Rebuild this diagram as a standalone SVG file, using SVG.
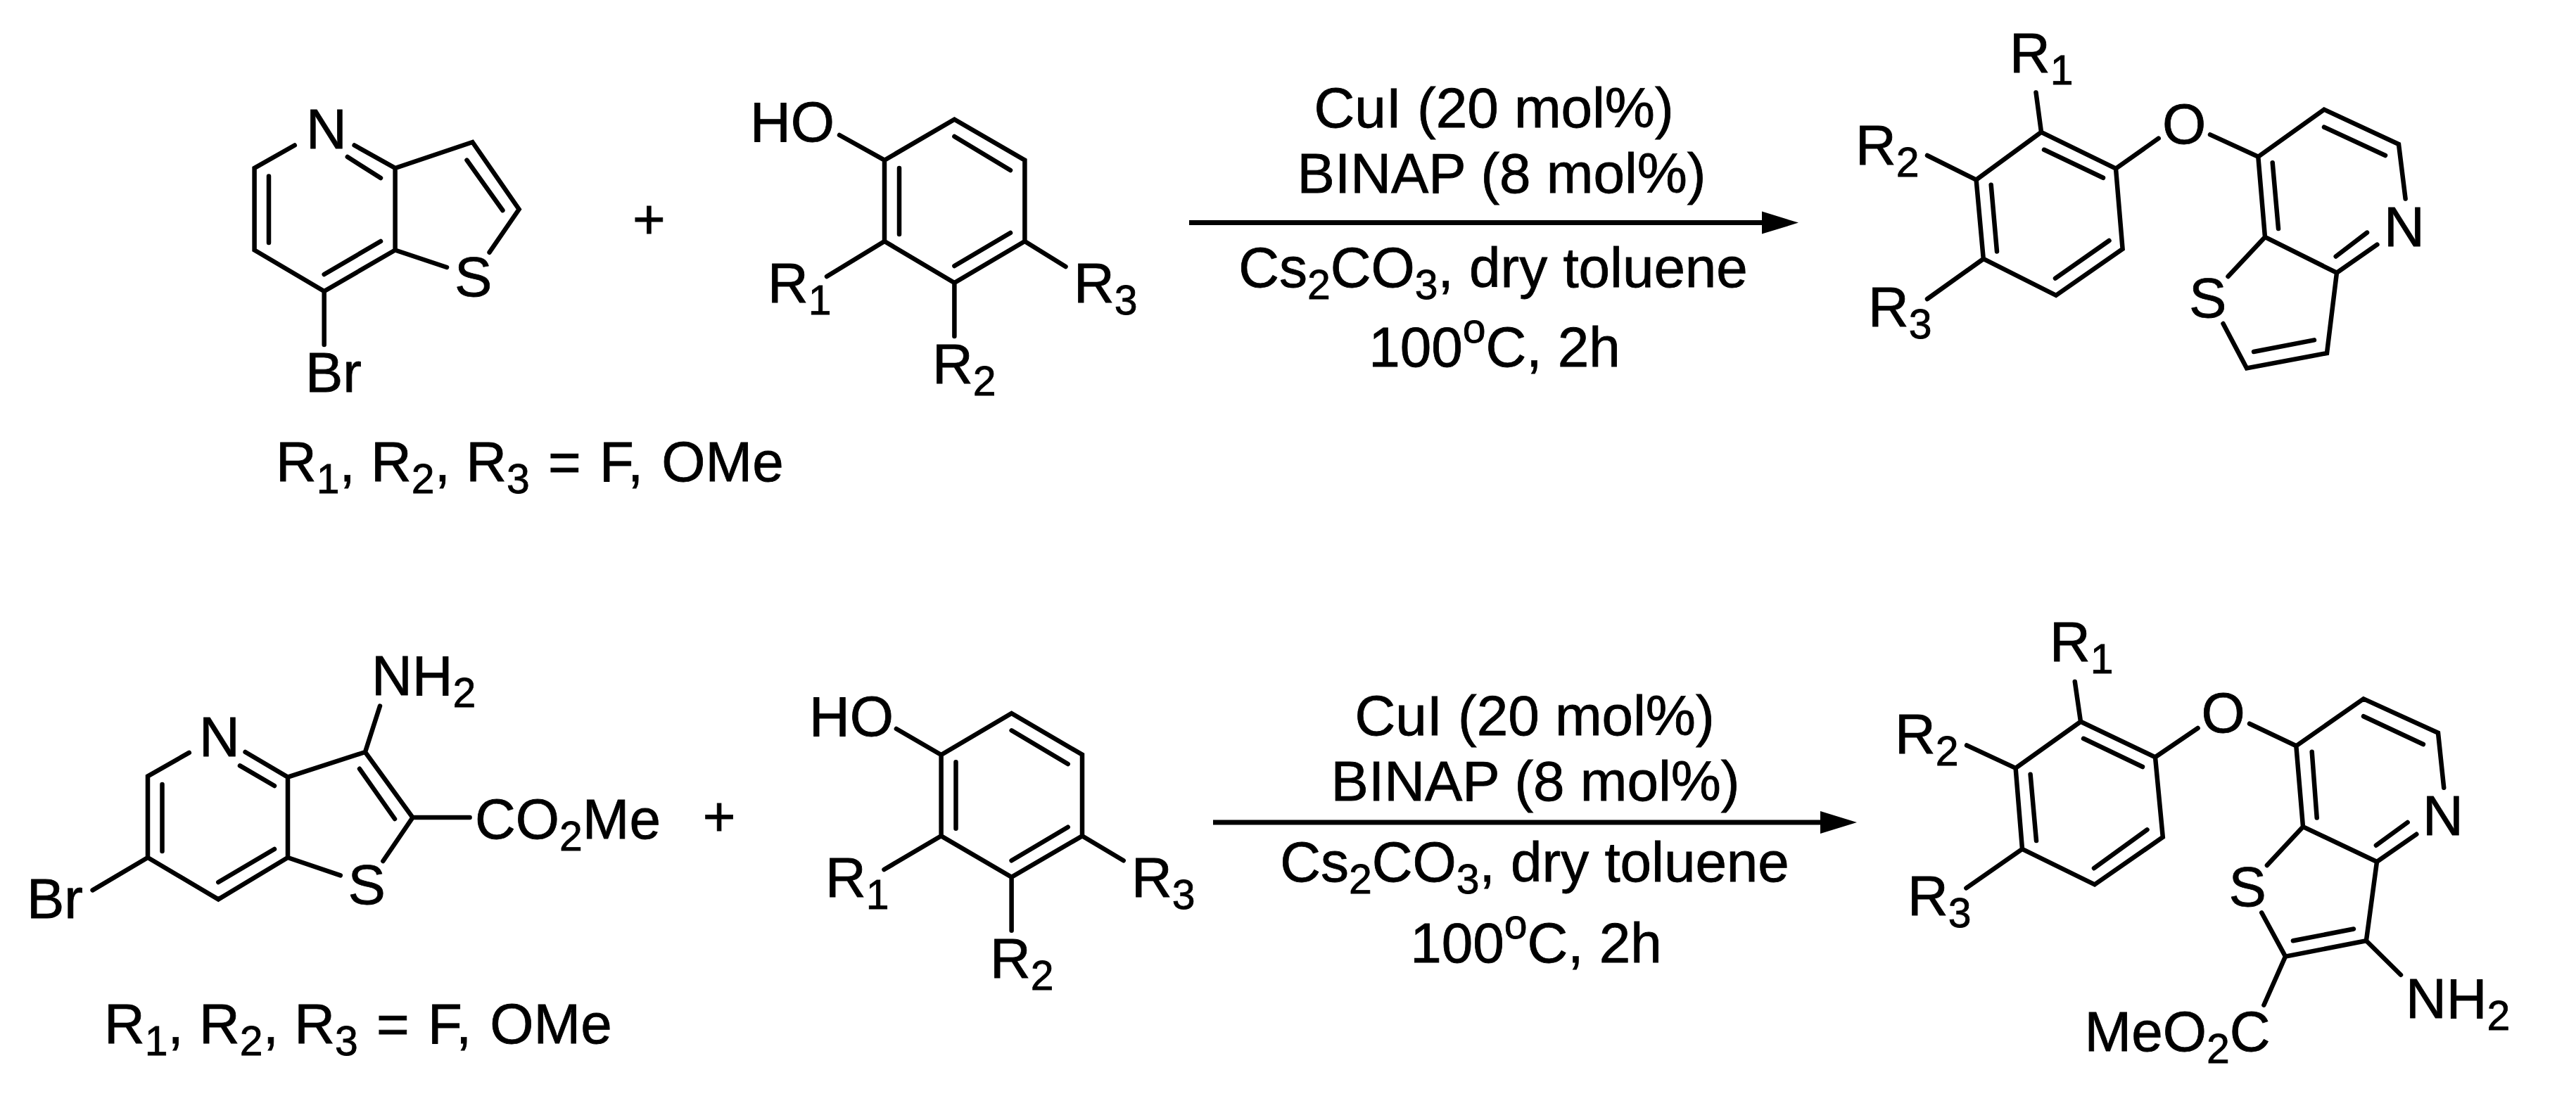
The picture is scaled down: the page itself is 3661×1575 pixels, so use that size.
<svg xmlns="http://www.w3.org/2000/svg" width="3661" height="1575" viewBox="0 0 3661 1575">
<style>
text{font-family:"Liberation Sans",Arial,sans-serif;font-size:80px;fill:#000;stroke:#000;stroke-width:0.8px}
.m{text-anchor:middle}
.s{font-size:59px}
.w{word-spacing:4px}
.b{fill:none;stroke:#000;stroke-width:6.5px;stroke-linecap:round;stroke-linejoin:miter}
.a{fill:none;stroke:#000;stroke-width:7px;marker-end:url(#head)}
</style>
<defs>
<marker id="head" markerUnits="userSpaceOnUse" markerWidth="52" markerHeight="32" refX="0" refY="16" orient="auto" overflow="visible"><polygon points="0,0 52,16 0,32"/></marker>
</defs>
<rect width="3661" height="1575" fill="#fff"/>
<g id="thienopyridine-1">
<path class="b" d="M418.8,206.5L361.6,239V355.5L460.7,414L561.6,355.5V239L503.6,206.5M382,250.5V345M460.7,390L541,343M493.8,223L541,253M561.6,239L671.5,202L737.6,297.5L695.6,358.7M663.5,227.7L714.4,299M561.6,355.5L635,380M460.7,414V490"/>
<text x="435" y="210.6">N</text>
<text x="646" y="420.7">S</text>
<text x="434" y="556.6">Br</text>
</g>
<text id="subst-1" x="392" y="684">R<tspan class="s" dy="17">1</tspan><tspan dy="-17">, R</tspan><tspan class="s" dy="17">2</tspan><tspan dy="-17">, R</tspan><tspan class="s" dy="17">3</tspan><tspan class="w" dy="-17"> = F, OMe</tspan></text>
<text id="plus-1" class="m" x="922.4" y="339">+</text>
<g id="phenol-1">
<path class="b" d="M1257,227.7L1356.4,169.8L1456.4,227.7V343L1356.4,402L1257,343ZM1193,192L1257,227.7M1356.4,194L1436,242M1278,239V333M1356.4,378L1436,331M1257,343L1175,393M1456.4,343L1514.5,379M1356.4,402V478"/>
<text x="1066" y="200.8">HO</text>
<text x="1091" y="430">R<tspan class="s" dy="17">1</tspan></text>
<text x="1526" y="430">R<tspan class="s" dy="17">3</tspan></text>
<text x="1325" y="545">R<tspan class="s" dy="17">2</tspan></text>
</g>
<g id="conditions-1">
<text class="m" x="2123" y="181.4">CuI (20 mol%)</text>
<text class="m" x="2134" y="273.6">BINAP (8 mol%)</text>
<text class="m" x="2122" y="408.4">Cs<tspan class="s" dy="17">2</tspan><tspan dy="-17">CO</tspan><tspan class="s" dy="17">3</tspan><tspan dy="-17">, dry toluene</tspan></text>
<text class="m" x="2124" y="521">100<tspan class="s" dy="-34">o</tspan><tspan dy="34">C, 2h</tspan></text>
</g>
<g id="product-1">
<path class="b" d="M2901,187.8L3007,239.6L3016.6,353.8L2922,419.8L2818.8,368L2808.6,255.6ZM2905,212.8L2989,252.8M2829.7,262.8L2838,357.4M2997.5,342L2921,395.6M2901,187.8L2893.5,131.4M2808.6,255.6L2739,221M2818.8,368L2739,425M3007,239.6L3067.7,196.7M3141,191.4L3209.3,222.8L3303,155.7L3409,205L3418.6,282.4M3378.4,347.7L3321,387.7L3219,337L3209.3,222.8M3303,180.7L3390,221M3229.7,231.3L3238,325M3364,330.6L3319.7,364.5M3219,337L3166.5,393M3321,387.7L3307,502L3193,523.4L3159.5,460M3289,483.4L3203,500"/>
<text x="3073" y="204">O</text>
<text x="2856" y="103">R<tspan class="s" dy="17">1</tspan></text>
<text x="2637" y="234">R<tspan class="s" dy="17">2</tspan></text>
<text x="2655" y="464">R<tspan class="s" dy="17">3</tspan></text>
<text x="3388" y="349.5">N</text>
<text x="3111" y="451">S</text>
</g>
<g id="thienopyridine-2">
<path class="b" d="M268.8,1069.9L210,1103.4V1219L310.3,1278.4L409,1219V1104.6L348.6,1069M341,1088.4L390,1117M230.5,1115V1210M310.3,1254L390,1207M409,1104.6L519,1069L586.5,1162L544.4,1224M511,1092.8L561,1164M409,1219L483.8,1244.4M519,1069L540,1003.5M586.5,1162H667.6M210,1219L131.6,1265.4"/>
<text x="283" y="1075">N</text>
<text x="494.5" y="1285">S</text>
<text x="528" y="987.7">NH<tspan class="s" dy="17">2</tspan></text>
<text x="675" y="1192">CO<tspan class="s" dy="17">2</tspan><tspan dy="-17">Me</tspan></text>
<text x="38" y="1305">Br</text>
</g>
<text id="subst-2" x="148" y="1483">R<tspan class="s" dy="17">1</tspan><tspan dy="-17">, R</tspan><tspan class="s" dy="17">2</tspan><tspan dy="-17">, R</tspan><tspan class="s" dy="17">3</tspan><tspan class="w" dy="-17"> = F, OMe</tspan></text>
<text id="plus-2" class="m" x="1022" y="1188">+</text>
<g id="phenol-2">
<path class="b" d="M1337.6,1073L1437.6,1014L1538,1072.7V1188.3L1437.6,1246.7L1337.6,1188.3ZM1273.9,1036L1337.6,1073M1437.6,1038.3L1517.7,1086M1358.5,1083.3V1177.7M1437.6,1223.3L1517.7,1175.7M1337.6,1188.3L1256.5,1236M1538,1188.3L1596.7,1223.3M1437.6,1246.7V1322.7"/>
<text x="1150" y="1045.7">HO</text>
<text x="1173" y="1275">R<tspan class="s" dy="17">1</tspan></text>
<text x="1608" y="1275">R<tspan class="s" dy="17">3</tspan></text>
<text x="1407" y="1390">R<tspan class="s" dy="17">2</tspan></text>
</g>
<g id="conditions-2">
<text class="m" x="2181" y="1045">CuI (20 mol%)</text>
<text class="m" x="2182" y="1137.7">BINAP (8 mol%)</text>
<text class="m" x="2181" y="1253">Cs<tspan class="s" dy="17">2</tspan><tspan dy="-17">CO</tspan><tspan class="s" dy="17">3</tspan><tspan dy="-17">, dry toluene</tspan></text>
<text class="m" x="2183" y="1367.7">100<tspan class="s" dy="-34">o</tspan><tspan dy="34">C, 2h</tspan></text>
</g>
<g id="product-2">
<path class="b" d="M2957,1025.8L3063,1076.3L3073.8,1190L2976.9,1257.3L2874,1206.8L2864.6,1091.9ZM2961,1049.8L3045,1090M2885.6,1100.7L2894,1195M3051.5,1179.4L2976,1234.2M2957,1025.8L2948.8,969M2864.6,1091.9L2795,1059.5M2874,1206.8L2794.4,1262.4M3063,1076.3L3123.6,1035M3197,1028.7L3263.3,1060.3L3359,993.4L3465,1041.8L3473.2,1119.7M3434.3,1185.8L3378,1225L3273,1175.2L3263.3,1060.3M3359,1018.2L3443.9,1058M3285.7,1068.7L3292.7,1162.6M3421.6,1169L3376.9,1201.7M3273,1175.2L3221.9,1230M3378,1225L3362.9,1337.3L3248,1359.6L3214.2,1297.3M3345,1320.5L3258.9,1337.3M3362.9,1337.3L3412,1385.7M3248,1359.6L3217.4,1428.7"/>
<text x="2913" y="940.3">R<tspan class="s" dy="17">1</tspan></text>
<text x="2693" y="1070.8">R<tspan class="s" dy="17">2</tspan></text>
<text x="2711" y="1300.7">R<tspan class="s" dy="17">3</tspan></text>
<text x="3128.5" y="1040.5">O</text>
<text x="3443" y="1186.6">N</text>
<text x="3167.5" y="1288">S</text>
<text x="3419" y="1446.8">NH<tspan class="s" dy="17">2</tspan></text>
<text x="2962.6" y="1494">MeO<tspan class="s" dy="17">2</tspan><tspan dy="-17">C</tspan></text>
</g>
<g id="connectors">
<path class="a" d="M1690,316.6H2504"/>
<path class="a" d="M1724,1169H2587"/>
</g>
</svg>
